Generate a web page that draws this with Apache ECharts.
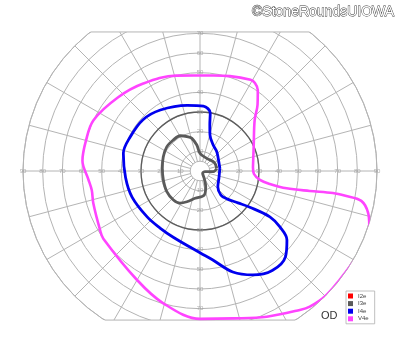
<!DOCTYPE html>
<html><head><meta charset="utf-8">
<script src="https://cdn.jsdelivr.net/npm/echarts@6/dist/echarts.min.js"></script>
<style>html,body{margin:0;padding:0;background:#fff}#c{width:400px;height:352px}</style>
</head><body><div id="c"></div>
<script>
// ---- data (radius in degrees, meridian angle in degrees) ----
const seriesNames = ['I2e', 'I3e', 'I4e', 'V4e'];
const seriesColors = ['#ff0000', '#5a5a5a', '#0000ee', '#ff44ff'];
const isoI2e = [];
const isoI3e = [[8.6,9],[8.5,31],[7.3,62],[9,90],[13.3,97],[17.1,104],[18.4,109],[20.6,119.5],[20.8,131],[20.9,144],[20,159],[19.2,176],[19.2,194],[19.9,212],[20,227],[19.3,238],[17,247],[14.1,260],[12.4,280],[8.5,290],[4.3,300],[1.8,318],[2.6,352],[6.8,357],[8.6,9]];
const isoI4e = [[10.2,8],[11.3,35],[13,49],[14.8,63],[19,74.5],[24,78],[30,80],[33,87],[34,101],[37,123],[39,138],[39.5,154],[40,167],[38,185],[37,201],[35.6,221],[35.4,235],[36.3,248],[41.6,270],[45.6,278],[54,288],[59.3,297],[62.5,306],[61.5,315],[56.4,321.6],[49.6,325],[42.5,326.7],[31.3,324],[25.2,320],[19.7,314],[16.2,311],[12.2,318],[10.3,339],[10.2,8]];
const isoV4e = [[27,4],[30.4,26],[38,43],[44.6,49],[50.6,54.5],[52.7,58],[53,61],[50.6,72.5],[49,82],[50,104],[53,123],[56,138],[60,154.5],[60,165],[60,175],[57,184],[55.9,190],[56.7,197],[59,210.5],[60,215],[64,240],[69.8,254.5],[75.2,270],[76.8,282.6],[81.5,294.6],[87,305.7],[88.7,309],[90,315],[90,322],[90.6,329],[91.5,333],[91.5,337],[90.5,342],[88.1,346],[83.4,349.5],[75,350.3],[68.5,350.6],[56.7,349.7],[44.9,348.7],[36.1,349.5],[30.8,351.5],[27.5,356.8],[27,4]];
const hTickLabels = [10, 20, 30, 40, 50, 60, 70, 80, 90];
const vTickLabels = [10, 20, 30, 40, 50, 60, 70];
const eyeLabel = 'OD';
const watermark = '©StoneRoundsUIOWA';

// ---- layout ----
const ringMax = 90, ringStep = 10, spokeStep = 15, boldRing = 30, innerRing = 5;
const clipTopDeg = 70.7, clipBottomDeg = 75.8;
const CX = 200, CY = 171, R = 177;
const pxPerDeg = R / ringMax;

const chart = echarts.init(document.getElementById('c'), null, {renderer: 'canvas'});

const labelData = [];
hTickLabels.forEach(v => { labelData.push([v, 0]); labelData.push([v, 180]); });
vTickLabels.forEach(v => { labelData.push([v, 90]); labelData.push([v, 270]); });

const isoData = [isoI2e, isoI3e, isoI4e, isoV4e];
const series = seriesNames.map((n, i) => ({
  name: n, type: 'line', coordinateSystem: 'polar', polarIndex: 0,
  data: isoData[i], showSymbol: false, symbol: 'none', smooth: 0.35, clip: false,
  color: seriesColors[i],
  lineStyle: {color: seriesColors[i], width: i === 3 ? 2.6 : 2.8},
  z: 3, silent: true
}));
series.push({
  type: 'scatter', coordinateSystem: 'polar', polarIndex: 0, data: labelData,
  symbolSize: 0, silent: true, z: 2,
  label: {show: true, position: 'inside', formatter: p => String(p.value[0]),
    fontSize: 6, color: '#9a9a9a', fontFamily: 'Liberation Sans'}
});

const topY = CY - clipTopDeg * pxPerDeg;
const botY = CY + clipBottomDeg * pxPerDeg;
const halfTop = Math.sqrt(R * R - (CY - topY) * (CY - topY));
const halfBot = Math.sqrt(R * R - (botY - CY) * (botY - CY));

chart.setOption({
  animation: false,
  backgroundColor: '#fff',
  title: {text: watermark, right: 0, top: 0,
    textStyle: {fontSize: 14, fontWeight: 'normal', fontFamily: 'Liberation Sans', color: '#ffffff',
      textBorderColor: '#333', textBorderWidth: 0.9}},
  legend: {data: seriesNames, orient: 'vertical', left: 346, top: 291, icon: 'rect',
    itemWidth: 5, itemHeight: 5, itemGap: 1.6, selectedMode: false,
    borderColor: '#b0b0b0', borderWidth: 0.8, padding: [2, 6, 2, 2],
    textStyle: {fontSize: 6, color: '#444', fontFamily: 'Liberation Sans', padding: [0, 0, 0, 0]}},
  polar: [{center: [CX, CY], radius: R}, {center: [CX, CY], radius: boldRing * pxPerDeg}],
  angleAxis: [
    {polarIndex: 0, type: 'value', min: 0, max: 360, interval: spokeStep, startAngle: 0, clockwise: false,
      axisLine: {lineStyle: {color: '#b4b4b4', width: 1}}, axisTick: {show: false}, axisLabel: {show: false},
      splitLine: {lineStyle: {color: '#b4b4b4', width: 1}}},
    {polarIndex: 1, type: 'value', min: 0, max: 360, startAngle: 0, clockwise: false,
      axisLine: {lineStyle: {color: '#5c5c5c', width: 1.3}}, axisTick: {show: false}, axisLabel: {show: false},
      splitLine: {show: false}}
  ],
  radiusAxis: [
    {polarIndex: 0, type: 'value', min: 0, max: ringMax, interval: ringStep,
      axisLine: {show: false}, axisTick: {show: false}, axisLabel: {show: false},
      splitLine: {lineStyle: {color: '#b4b4b4', width: 1}}},
    {polarIndex: 1, type: 'value', min: 0, max: boldRing,
      axisLine: {show: false}, axisTick: {show: false}, axisLabel: {show: false}, splitLine: {show: false}}
  ],
  graphic: {elements: [
    {type: 'rect', z: 1, shape: {x: 0, y: 0, width: 400, height: topY}, style: {fill: '#fff'}, silent: true},
    {type: 'rect', z: 1, shape: {x: 0, y: botY, width: 400, height: 352 - botY}, style: {fill: '#fff'}, silent: true},
    {type: 'line', z: 1, shape: {x1: CX - halfTop, y1: topY, x2: CX + halfTop, y2: topY}, style: {stroke: '#b4b4b4', lineWidth: 1}, silent: true},
    {type: 'line', z: 1, shape: {x1: CX - halfBot, y1: botY, x2: CX + halfBot, y2: botY}, style: {stroke: '#b4b4b4', lineWidth: 1}, silent: true},
    {type: 'circle', z: 1, shape: {cx: CX, cy: CY, r: innerRing * pxPerDeg}, style: {fill: '#fff', stroke: '#b4b4b4', lineWidth: 1}, silent: true},
    {type: 'text', z: 5, left: 321, top: 310, style: {text: eyeLabel, fontSize: 11, fill: '#333', fontFamily: 'Liberation Sans'}, silent: true}
  ]},
  series: series
});
</script>
</body></html>
